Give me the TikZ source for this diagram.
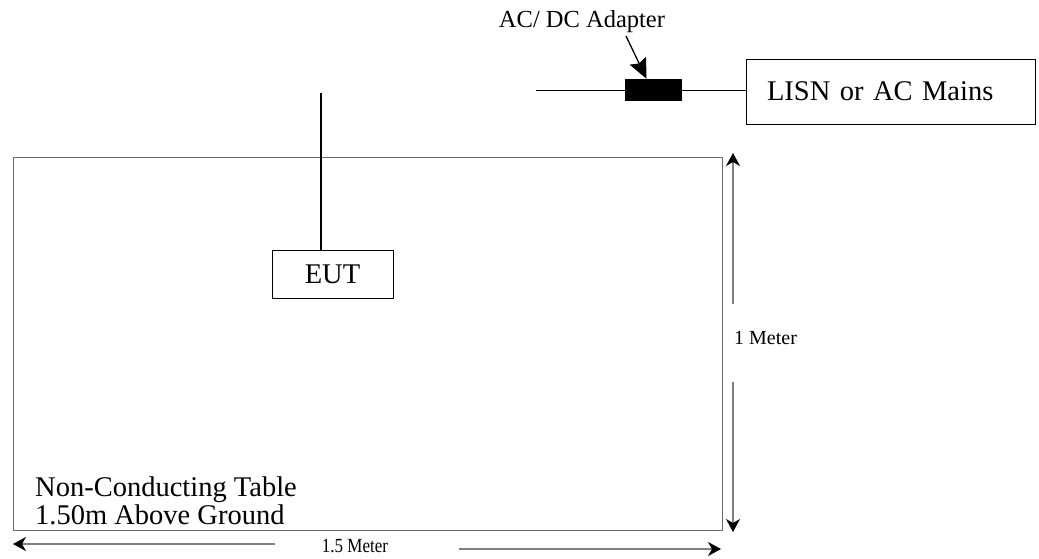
\documentclass[tikz,border=0pt]{standalone}
\usepackage{fontspec}
\setmainfont{Liberation Serif}
\usetikzlibrary{arrows.meta, positioning}
\definecolor{edgegray}{RGB}{105,105,105}
\definecolor{dimgray}{RGB}{128,128,128}

\begin{document}
\begin{tikzpicture}[
    x=1pt, y=-1pt,
    >={Stealth[length=13pt, width=14pt, inset=4pt, color=black]},
    bigtext/.style={font=\fontsize{28.5}{34}\selectfont, inner sep=0pt},
    labeltext/.style={font=\fontsize{24.5}{29}\selectfont, inner sep=0pt},
    smalltext/.style={font=\fontsize{20}{24}\selectfont, inner sep=0pt},
    box/.style={draw, line width=0.9pt, inner sep=0pt},
    dim line/.style={dimgray, line width=1.3pt}
]
\useasboundingbox (0,0) rectangle (1039,558);

% Table
\node[box, draw=edgegray, minimum width=709pt, minimum height=373pt] (table) at (367.5,343.5) {};
\node[bigtext, anchor=base west] (tablename) at (35,496) {Non-Conducting Table};
\node[bigtext, anchor=base west] (tableheight) at (35,524) {1.50m Above Ground};

% EUT and its cable
\node[box, minimum width=121pt, minimum height=48pt, bigtext, text depth=-3pt] (eut) at (332.5,274) {EUT};
\coordinate (cabletop) at (321,93);
\draw[line width=1.5pt] (eut.north -| cabletop) -- (cabletop);

% Adapter and mains
\coordinate (plug) at (536,90);
\node[fill, minimum width=57pt, minimum height=22pt, inner sep=0pt] (adapter) at (653.5,90) {};
\node[box, bigtext, minimum width=289pt, minimum height=65pt, inner xsep=21pt, text width=247pt, align=left] (lisn) at (890.5,91.5) {LISN or AC Mains};
\draw[line width=1pt] (plug) -- (adapter.west);
\draw[line width=1pt] (adapter.east) -- (adapter.east -| lisn.west);

% Adapter label
\node[labeltext] (adlabel) at (582,22) {AC/ DC Adapter};
\coordinate (adtail) at (626,36);
\draw[-{Stealth[length=20pt, width=18pt, inset=3pt]}, line width=1.3pt] (adtail) -- ([xshift=-7pt]adapter.north);

% Height 1 Meter
\node[smalltext, anchor=west] (height) at (734,338) {1 Meter};
\draw[->, dim line] (733,304) -- (733,153);
\draw[->, dim line] (733,382) -- (733,532);

% Width 1.5 Meter
\node[smalltext, xscale=0.85] (width) at (355,546) {1.5 Meter};
\draw[->, dim line] (275,544) -- (13,544);
\draw[->, dim line] (459,549) -- (721,549);

\end{tikzpicture}
\end{document}
